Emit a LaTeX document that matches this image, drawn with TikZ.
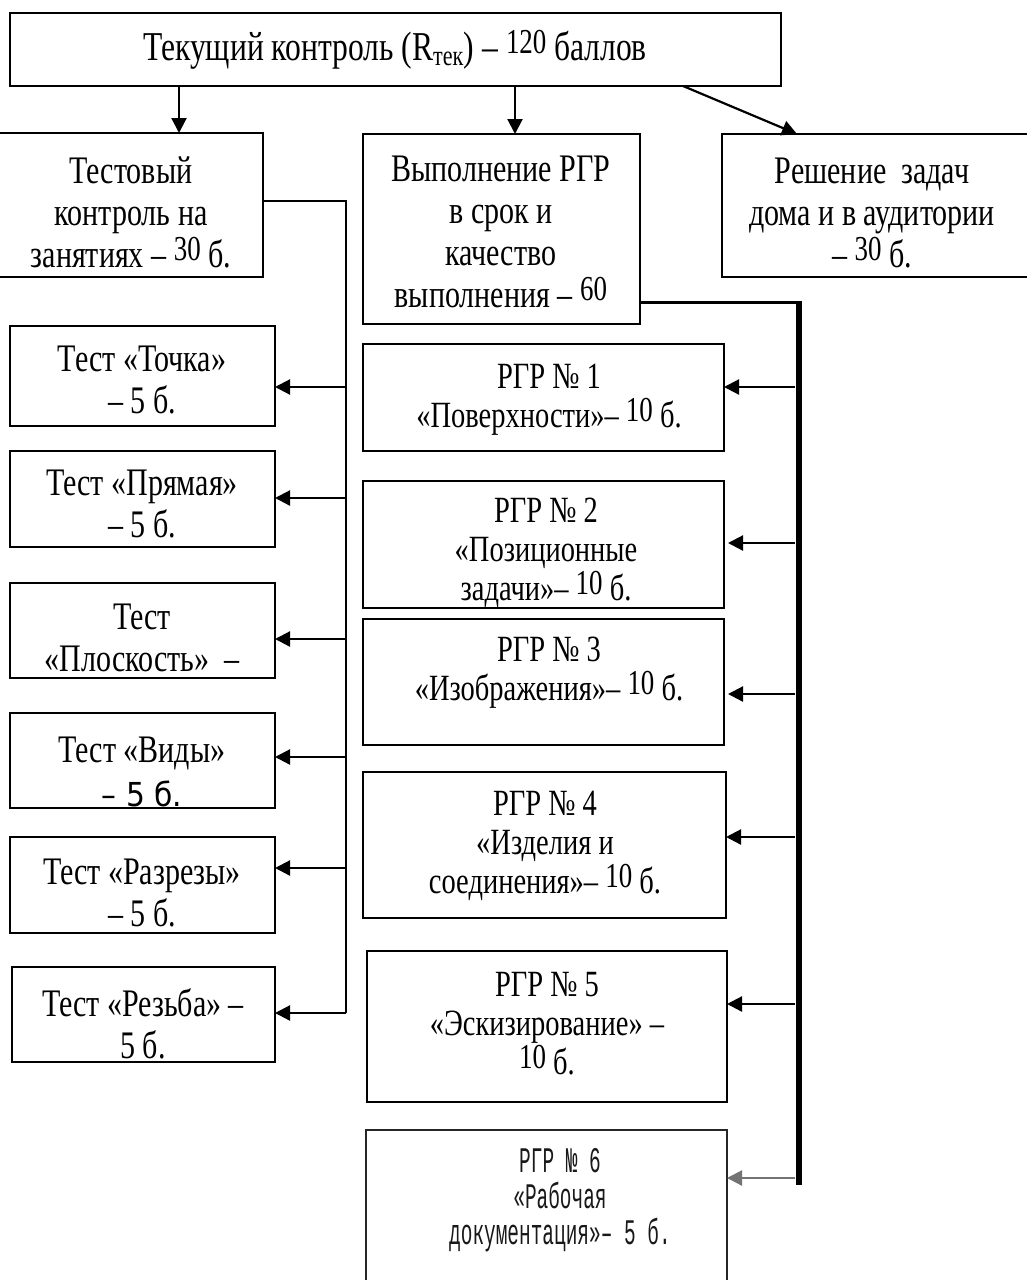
\documentclass[tikz,border=0pt]{standalone}
\usepackage{fontspec}
\setmainfont{Liberation Serif}[FakeStretch=0.77]
\newfontfamily\monof{Liberation Mono}[FakeStretch=0.54]
\newfontfamily\sansf{DejaVu Sans}[FakeStretch=0.9]
\usetikzlibrary{arrows.meta}
\newcommand\up[1]{\raisebox{0.17em}{\fontsize{35}{35}\selectfont #1}}
\newcommand\mkbox[5]{\node[box, minimum width={(#4-#2)*1pt}, minimum height={(#5-#3)*1pt}] (#1) at ({(#2+#4)/2},{(#3+#5)/2}) {};}
\begin{document}
\begin{tikzpicture}[x=1pt,y=-1pt,
 box/.style={draw, line width=1.8pt, inner sep=0pt, outer sep=0pt, rectangle},
 txt/.style={align=center, inner sep=0pt, font=\fontsize{39}{42}\selectfont},
 rtxt/.style={align=center, inner sep=0pt, font=\fontsize{37}{39}\selectfont},
 con/.style={line width=2pt},
 arr/.style={line width=2.2pt, -{Triangle[length=15pt,width=15pt]}},
]
\useasboundingbox (0,0) rectangle (1026,1280);
\fill[white] (0,0) rectangle (1026,1280);

% boxes
\mkbox{top}{10}{13}{781}{86}
\mkbox{test}{-3}{133}{263}{277}
\mkbox{rgr}{363}{134}{640}{324}
\mkbox{right}{722}{134}{1032}{277}
\mkbox{tochka}{10}{326}{275}{426}
\mkbox{pryam}{10}{451}{275}{547}
\mkbox{plosk}{10}{583}{275}{678}
\mkbox{vidy}{10}{713}{275}{808}
\mkbox{razr}{10}{837}{275}{933}
\mkbox{rezba}{12}{967}{275}{1062}
\mkbox{rA}{363}{344}{724}{451}
\mkbox{rB}{363}{481}{724}{608}
\mkbox{rC}{363}{619}{724}{745}
\mkbox{rD}{363}{772}{726}{918}
\mkbox{rE}{367}{951}{727}{1102}
\node[box, draw=black!85, line width=1.6pt, minimum width=361pt, minimum height=170pt] (rF) at (546.5,1215) {};

% texts
\node[txt, font=\fontsize{41}{42}\selectfont] (topt) at (395,50) {Текущий контроль (R\textsubscript{тек}) – \up{120} баллов};
\node[txt] (testt) at (131,212) {Тестовый\\контроль на\\занятиях – \up{30} б.};
\node[txt] (rgrt) at (501,232) {Выполнение РГР\\в срок и\\качество\\выполнения – \up{60}};
\node[txt] (rightt) at (872,213) {Решение\ \ задач\\дома и в аудитории\\– \up{30} б.};
\node[txt] (tochkat) at (142,380) {Тест «Точка»\\– 5 б.};
\node[txt] (pryamt) at (142,504) {Тест «Прямая»\\– 5 б.};
\node[txt] (ploskt) at (142,638) {Тест\\«Плоскость»\ \ –};
\node[txt] (vidyt) at (142,772) {Тест «Виды»\\[2pt]{\sansf\fontsize{33}{33}\selectfont – 5 б.}};
\node[txt] (razrt) at (142,893) {Тест «Разрезы»\\– 5 б.};
\node[txt] (rezbat) at (143,1024) {Тест «Резьба» –\\5 б.};
\node[rtxt] (rAt) at (549,400) {РГР № 1\\«Поверхности»– \up{10} б.};
\node[rtxt] (rBt) at (546,553) {РГР № 2\\«Позиционные\\задачи»– \up{10} б.};
\node[rtxt] (rCt) at (549,673) {РГР № 3\\«Изображения»– \up{10} б.};
\node[rtxt] (rDt) at (545,846) {РГР № 4\\«Изделия и\\соединения»– \up{10} б.};
\node[rtxt] (rEt) at (547,1024) {РГР № 5\\«Эскизирование» –\\\up{10} б.};
\node[align=center, inner sep=0pt, text=black!90, font=\monof\fontsize{36}{36}\selectfont] (rFt) at (560,1200) {РГР № 6\\«Рабочая\\документация»– 5 б.};

% top connectors
\coordinate (c1) at (179,0);
\coordinate (c2) at (515,0);
\coordinate (d1) at (683,0);
\coordinate (d2) at (797,0);
\draw[arr] (c1 |- top.south) -- (c1 |- test.north);
\draw[arr] (c2 |- top.south) -- (c2 |- rgr.north);
\draw[arr] (top.south -| d1) -- (right.north -| d2);

% left trunk
\coordinate (j0) at (346,201);
\coordinate (jb) at (346,1013);
\draw[con] (test.east |- j0) -- (j0) -- (jb);
\coordinate (j1) at (346,387);
\coordinate (j2) at (346,498);
\coordinate (j3) at (346,639);
\coordinate (j4) at (346,757);
\coordinate (j5) at (346,868);
\draw[arr] (j1) -- (j1 -| tochka.east);
\draw[arr] (j2) -- (j2 -| pryam.east);
\draw[arr] (j3) -- (j3 -| plosk.east);
\draw[arr] (j4) -- (j4 -| vidy.east);
\draw[arr] (j5) -- (j5 -| razr.east);
\draw[arr] (jb) -- (jb -| rezba.east);

% right trunk
\coordinate (k0) at (799,302);
\coordinate (kb) at (799,1185);
\draw[line width=3pt] (rgr.east |- k0) -- (k0);
\draw[line width=6.5pt] ([yshift=1.5pt]k0) -- (kb);
\coordinate (k1) at (795,387);
\coordinate (k2) at (795,543);
\coordinate (k3) at (795,694);
\coordinate (k4) at (795,837);
\coordinate (k5) at (795,1004);
\coordinate (k6) at (795,1178);
\draw[arr] (k1) -- (k1 -| rA.east);
\draw[arr] (k2) -- ([xshift=4pt]k2 -| rB.east);
\draw[arr] (k3) -- ([xshift=4pt]k3 -| rC.east);
\draw[arr] (k4) -- (k4 -| rD.east);
\draw[arr] (k5) -- (k5 -| rE.east);
\draw[arr, draw=black!55, fill=black] (k6) -- (k6 -| rF.east);
\end{tikzpicture}
\end{document}
